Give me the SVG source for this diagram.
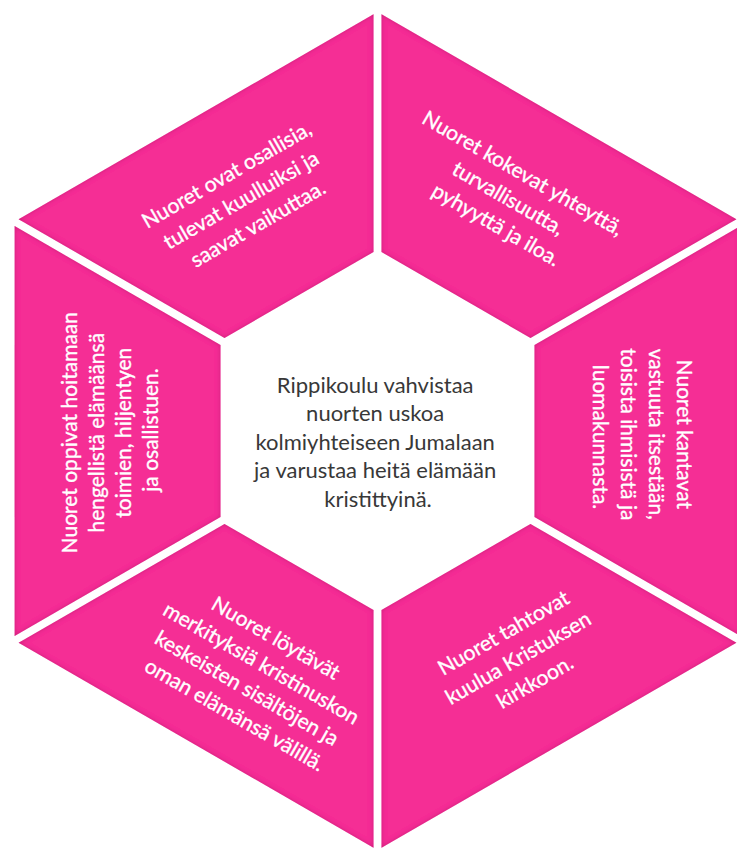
<svg xmlns="http://www.w3.org/2000/svg" width="737" height="855" viewBox="0 0 737 855">
  <style>
    .seg { fill: #F52F95; filter: url(#inner); }
    .lbl { font-family: Lato, "Open Sans", "DejaVu Sans", sans-serif; font-size: 21px; fill: #ffffff; stroke: #ffffff; stroke-width: 0.35; text-anchor: middle; }
    .core { font-family: Lato, "Open Sans", "DejaVu Sans", sans-serif; font-size: 22px; fill: #383838; text-anchor: middle; }
  </style>
  <defs>
    <filter id="inner" x="-5%" y="-5%" width="110%" height="110%">
      <feFlood flood-color="#9c0055" flood-opacity="0.55"/>
      <feComposite in2="SourceAlpha" operator="out"/>
      <feGaussianBlur stdDeviation="2.5"/>
      <feComposite in2="SourceAlpha" operator="in" result="shadow"/>
      <feMerge><feMergeNode in="SourceGraphic"/><feMergeNode in="shadow"/></feMerge>
    </filter>
  </defs>
  <rect width="737" height="855" fill="#ffffff"/>

  <g id="seg-top-left">
    <polygon class="seg" points="18.6,219.2 373.5,14.3 373.5,252 224.5,338"/>
    <text class="lbl" transform="translate(243,198) rotate(-30)">
      <tspan x="0" y="-21">Nuoret ovat osallisia,</tspan>
      <tspan x="0" y="8">tulevat kuulluiksi ja</tspan>
      <tspan x="0" y="37">saavat vaikuttaa.</tspan>
    </text>
  </g>

  <g id="seg-top-right">
    <polygon class="seg" points="381.5,14.3 736.4,219.2 530.5,338 381.5,252"/>
    <text class="lbl" transform="translate(511,199) rotate(30)">
      <tspan x="0" y="-21">Nuoret kokevat yhteyttä,</tspan>
      <tspan x="0" y="8">turvallisuutta,</tspan>
      <tspan x="0" y="37">pyhyyttä ja iloa.</tspan>
    </text>
  </g>

  <g id="seg-right">
    <polygon class="seg" points="740.4,226.1 740.4,635.9 534.5,517 534.5,345"/>
    <text class="lbl" transform="translate(643,437) rotate(90)">
      <tspan x="0" y="-34">Nuoret kantavat</tspan>
      <tspan x="0" y="-6">vastuuta itsestään,</tspan>
      <tspan x="0" y="22">toisista ihmisistä ja</tspan>
      <tspan x="0" y="50">luomakunnasta.</tspan>
    </text>
  </g>

  <g id="seg-bottom-right">
    <polygon class="seg" points="736.4,642.8 381.5,847.7 381.5,610 530.5,524"/>
    <text class="lbl" transform="translate(520,656) rotate(-30)">
      <tspan x="0" y="-21">Nuoret tahtovat</tspan>
      <tspan x="0" y="8">kuulua Kristuksen</tspan>
      <tspan x="0" y="37">kirkkoon.</tspan>
    </text>
  </g>

  <g id="seg-bottom-left">
    <polygon class="seg" points="373.5,847.7 18.6,642.8 224.5,524 373.5,610"/>
    <text class="lbl" transform="translate(257,676) rotate(30)">
      <tspan x="0" y="-35">Nuoret löytävät</tspan>
      <tspan x="0" y="-6">merkityksiä kristinuskon</tspan>
      <tspan x="0" y="23">keskeisten sisältöjen ja</tspan>
      <tspan x="0" y="52">oman elämänsä välillä.</tspan>
    </text>
  </g>

  <g id="seg-left">
    <polygon class="seg" points="14.6,635.9 14.6,226.1 220.5,345 220.5,517"/>
    <text class="lbl" transform="translate(110,430) rotate(-90)">
      <tspan x="0" y="-33">Nuoret oppivat hoitamaan</tspan>
      <tspan x="0" y="-6">hengellistä elämäänsä</tspan>
      <tspan x="0" y="21">toimien, hiljentyen</tspan>
      <tspan x="0" y="48">ja osallistuen.</tspan>
    </text>
  </g>

  <g id="center">
    <text class="core">
      <tspan x="378" y="393">Rippikoulu vahvistaa</tspan>
      <tspan x="378" y="421">nuorten uskoa</tspan>
      <tspan x="378" y="450">kolmiyhteiseen Jumalaan</tspan>
      <tspan x="378" y="478">ja varustaa heitä elämään</tspan>
      <tspan x="378" y="507">kristittyinä.</tspan>
    </text>
  </g>

  <g id="connectors"/>
</svg>
